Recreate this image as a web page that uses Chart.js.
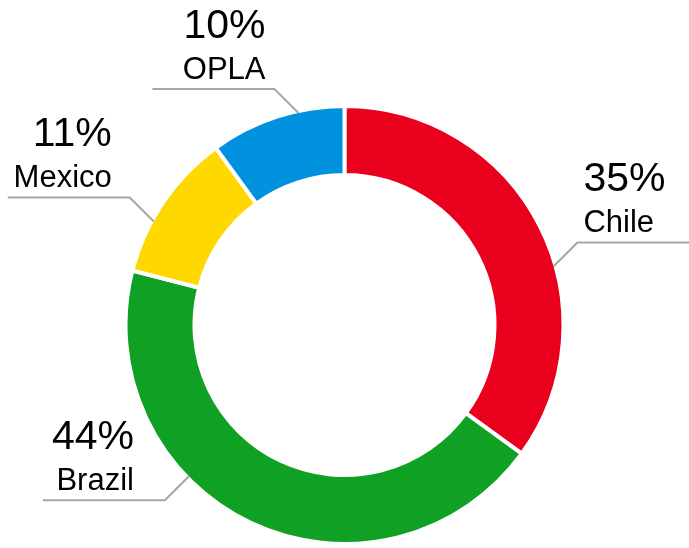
<!DOCTYPE html>
<html>
<head>
<meta charset="utf-8">
<script src="https://cdn.jsdelivr.net/npm/chart.js@4"></script>
<style>
  html, body { margin: 0; padding: 0; background: #fff; }
  #wrap { width: 689px; height: 548px; }
</style>
</head>
<body>
<div id="wrap"><canvas id="donut"></canvas></div>
<script>
var regions = ['Chile', 'Brazil', 'Mexico', 'OPLA'];
var shares = [35, 44, 11, 10];
var colors = ['#E8001C', '#0FA024', '#FFD800', '#0091DF'];

// where each leader line leaves its slice (0..1 along the slice) and text shift
var labelAt = [0.59, 0.63, 0.356, 0.66];
var textShift = [6, -31, -18, -9];

var leaderLabels = {
    id: 'leaderLabels',
    afterDatasetsDraw: function(chart) {
        var ctx = chart.ctx;
        var meta = chart.getDatasetMeta(0);
        var total = shares.reduce(function(a, b) { return a + b; }, 0);
        meta.data.forEach(function(arc, i) {
            var p = arc.getProps(['x', 'y', 'startAngle', 'endAngle', 'outerRadius'], true);
            var a = p.startAngle + labelAt[i] * (p.endAngle - p.startAngle);
            var r = p.outerRadius - 2;
            var x0 = p.x + Math.cos(a) * r;
            var y0 = p.y + Math.sin(a) * r;
            var sx = Math.cos(a) < 0 ? -1 : 1;
            var sy = Math.sin(a) < 0 ? -1 : 1;
            var x1 = x0 + sx * 24;
            var y1 = y0 + sy * 24;
            var x2 = x1 + sx * 122;

            ctx.save();
            ctx.strokeStyle = '#a6a6a6';
            ctx.lineWidth = 2;
            ctx.beginPath();
            ctx.moveTo(x0, y0);
            ctx.lineTo(x1, y1);
            ctx.lineTo(x2, y1);
            ctx.stroke();

            ctx.fillStyle = '#000';
            ctx.textAlign = sx < 0 ? 'right' : 'left';
            ctx.textBaseline = 'alphabetic';
            var tx = x1 + textShift[i];
            ctx.font = '41px "Liberation Sans", Arial, sans-serif';
            ctx.fillText(Math.round(shares[i] / total * 100) + '%', tx, y1 - 51);
            ctx.font = '31px "Liberation Sans", Arial, sans-serif';
            ctx.fillText(regions[i], tx, y1 - 10);
            ctx.restore();
        });
    }
};

var ctx = document.getElementById('donut').getContext('2d');
window.myDonut = new Chart(ctx, {
    type: 'doughnut',
    data: {
        labels: regions,
        datasets: [{
            data: shares,
            backgroundColor: colors,
            borderColor: '#ffffff',
            borderWidth: 4,
            hoverOffset: 0
        }]
    },
    options: {
        responsive: true,
        maintainAspectRatio: false,
        animation: false,
        cutout: '68.5%',
        layout: {
            padding: { top: 104, bottom: 2, left: 0, right: 0 }
        },
        plugins: {
            legend: { display: false },
            tooltip: { enabled: false }
        }
    },
    plugins: [leaderLabels]
});
</script>
</body>
</html>
